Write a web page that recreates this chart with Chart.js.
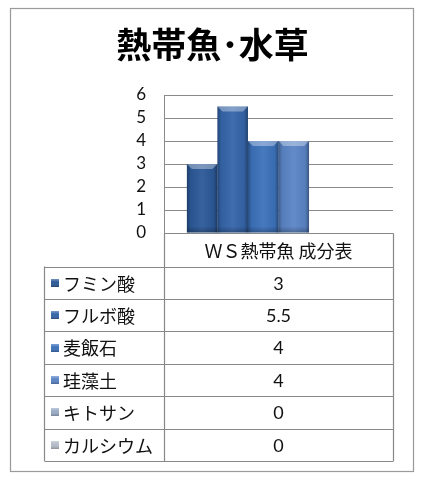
<!DOCTYPE html>
<html><head><meta charset="utf-8">
<script src="https://cdn.jsdelivr.net/npm/chart.js@4"></script>
<style>html,body{margin:0;padding:0;background:#fff}#wrap{width:425px;height:484px;position:relative}</style>
</head><body><div id="wrap"><canvas id="c" width="425" height="484"></canvas></div>
<script>
const chartTitle = '熱帯魚･水草';
const categories = ['ＷＳ熱帯魚 成分表'];
const seriesNames = ['フミン酸','フルボ酸','麦飯石','珪藻土','キトサン','カルシウム'];
const seriesValues = [3, 5.5, 4, 4, 0, 0];
const seriesColors = ['#2b5896','#3464a8','#3c71ba','#5a84c5','#9aabc6','#b5bcc8'];
const yMin = 0, yMax = 6, yStep = 1;

const JP = '"Noto Sans CJK JP","Noto Sans",sans-serif';
const NUM = 'Lato,"Open Sans",sans-serif';

const bevelPlugin = {
  id:'bevel',
  afterDatasetsDraw(chart){
    const ctx = chart.ctx;
    ctx.save();
    chart.data.datasets.forEach((ds,i)=>{
      const meta = chart.getDatasetMeta(i);
      meta.data.forEach(el=>{
        const p = el.getProps(['x','y','width','base'], true);
        const h = p.base - p.y; if (h <= 0) return;
        const l = p.x - p.width/2, r = p.x + p.width/2;
        const g = ctx.createLinearGradient(l,0,r,0);
        g.addColorStop(0,'rgba(0,0,0,0.30)');
        g.addColorStop(0.12,'rgba(0,0,0,0.05)');
        g.addColorStop(0.5,'rgba(255,255,255,0.06)');
        g.addColorStop(0.88,'rgba(0,0,0,0.05)');
        g.addColorStop(1,'rgba(0,0,0,0.35)');
        ctx.fillStyle = g; ctx.fillRect(l,p.y,p.width,h);
        const b = 5;
        ctx.beginPath(); ctx.moveTo(l,p.y); ctx.lineTo(r,p.y); ctx.lineTo(r-b,p.y+b); ctx.lineTo(l+b,p.y+b); ctx.closePath();
        ctx.fillStyle = 'rgba(255,255,255,0.35)'; ctx.fill();
        const gb = ctx.createLinearGradient(0,p.base-6,0,p.base);
        gb.addColorStop(0,'rgba(0,0,0,0)'); gb.addColorStop(1,'rgba(0,0,0,0.25)');
        ctx.fillStyle = gb; ctx.fillRect(l,p.base-6,p.width,6);
      });
    });
    ctx.restore();
  }
};

const tablePlugin = {
  id:'tbl',
  afterDraw(chart){
    const {ctx, chartArea:ca, scales:{x}} = chart;
    ctx.save();
    ctx.strokeStyle = '#9a9a9a'; ctx.lineWidth = 1.2;
    ctx.strokeRect(10.5, 8.5, 403, 463);
    ctx.fillStyle = '#000'; ctx.textAlign='center'; ctx.textBaseline='middle';
    ctx.font = 'bold 35px ' + JP;
    ctx.fillText(chartTitle, 212.5, 45);
    const L = 44.5, C = Math.round(ca.left)+0.5, R = Math.round(ca.right)+0.5;
    const top = Math.round(ca.bottom)+0.5, headB = 266.5, rowH = 32.4;
    const n = seriesNames.length;
    const bottom = headB + rowH*n;
    ctx.strokeStyle = '#888'; ctx.lineWidth = 1.2;
    ctx.beginPath();
    ctx.moveTo(C,top); ctx.lineTo(R,top);
    ctx.moveTo(C,top); ctx.lineTo(C,bottom);
    ctx.moveTo(R,top); ctx.lineTo(R,bottom);
    ctx.moveTo(L,headB); ctx.lineTo(L,bottom);
    for (let i=0;i<=n;i++){ const yy = Math.round(headB + rowH*i)+0.5; ctx.moveTo(L,yy); ctx.lineTo(R,yy); }
    ctx.stroke();
    const cx = x.getPixelForValue(0);
    ctx.fillStyle = '#111'; ctx.font = '18px ' + JP;
    ctx.fillText(categories[0], cx, (top+headB)/2+1);
    for (let i=0;i<n;i++){
      const yc = headB + rowH*i + rowH/2;
      const sx = 51, s = 8, sy = Math.round(yc - s/2);
      const col = seriesColors[i];
      ctx.fillStyle = col; ctx.fillRect(sx, sy, s, s);
      const g = ctx.createLinearGradient(0,sy,0,sy+s);
      g.addColorStop(0,'rgba(255,255,255,0.35)'); g.addColorStop(0.4,'rgba(255,255,255,0)'); g.addColorStop(1,'rgba(0,0,0,0.25)');
      ctx.fillStyle = g; ctx.fillRect(sx, sy, s, s);
      ctx.textAlign='left'; ctx.fillStyle='#111'; ctx.font = '18px ' + JP;
      ctx.fillText(seriesNames[i], 63, yc+1);
      ctx.textAlign='center'; ctx.font = '18px ' + NUM;
      ctx.fillText(String(chart.data.datasets[i].data[0]), cx, yc+1);
    }
    ctx.restore();
  }
};

new Chart(document.getElementById('c'), {
  type:'bar',
  data:{
    labels: categories,
    datasets: seriesNames.map((name,i)=>({
      label: name, data: [seriesValues[i]],
      backgroundColor: seriesColors[i], borderWidth:0,
      barPercentage:1.0, categoryPercentage:0.8
    }))
  },
  options:{
    responsive:false, animation:false, devicePixelRatio:1,
    layout:{padding:{left:0, right:32, top:95, bottom:251}},
    plugins:{legend:{display:false}, title:{display:false}, tooltip:{enabled:false}},
    scales:{
      x:{display:false},
      y:{
        min:yMin, max:yMax,
        afterFit(s){ s.width = 164; },
        ticks:{stepSize:yStep, autoSkip:false, padding:18, color:'#111', font:{family:NUM, size:17}},
        grid:{color:'#8a8a8a', lineWidth:1, drawTicks:false},
        border:{display:true, color:'#8a8a8a', width:1}
      }
    }
  },
  plugins:[bevelPlugin, tablePlugin]
});
</script></body></html>
